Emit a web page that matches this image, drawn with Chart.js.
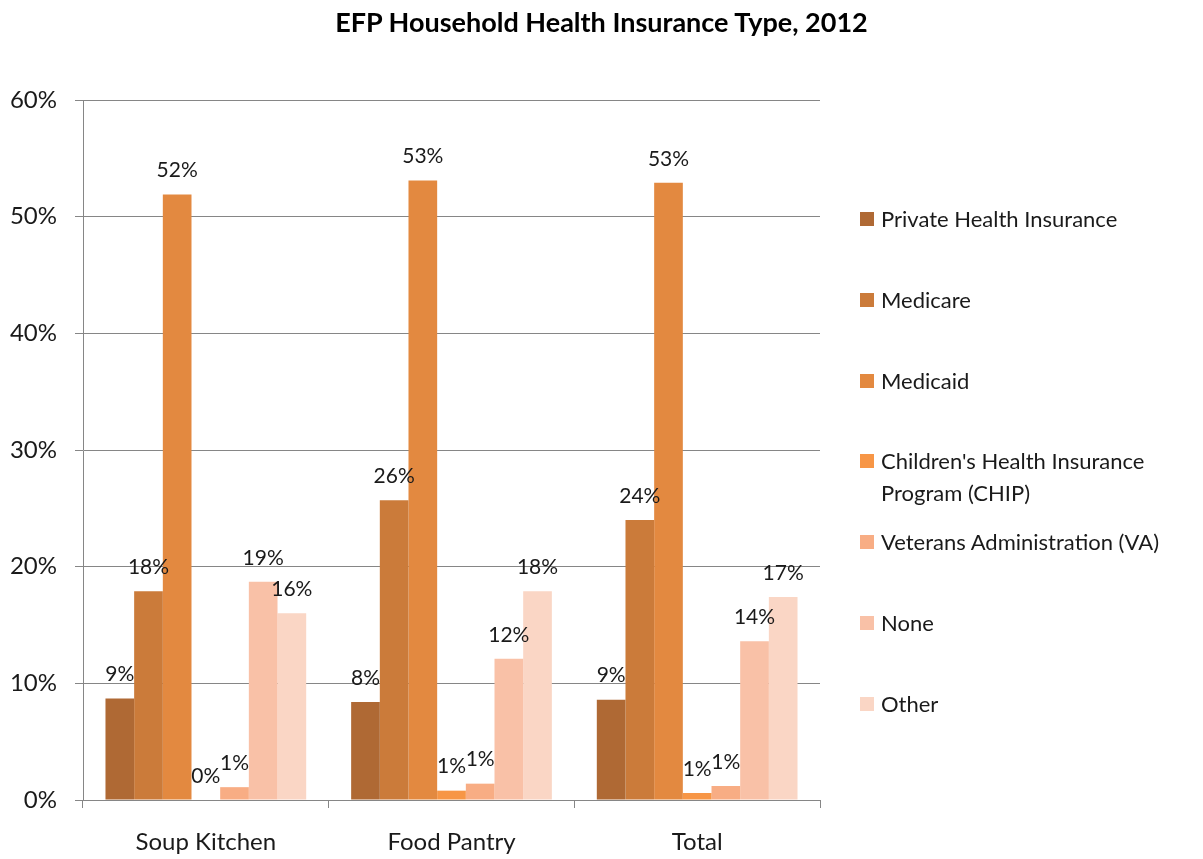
<!DOCTYPE html>
<html>
<head>
<meta charset="utf-8">
<script src="https://cdn.jsdelivr.net/npm/chart.js@4.4.0/dist/chart.umd.min.js"></script>
<style>
  body { margin: 0; background: #fff; }
  #wrap { position: relative; width: 1203px; height: 859px; }
  #title {
    position: absolute; left: 0; top: 5px; width: 1203px; text-align: center;
    font: bold 27px Lato, sans-serif; color: #000;
  }
  #legend { position: absolute; left: 860px; top: 0; }
  .item {
    position: absolute; left: 0; white-space: pre; font: 22px Lato, sans-serif;
    line-height: 32px; color: #1a1a1a; padding-left: 21px;
  }
  .item span {
    position: absolute; left: 0; top: 9px; width: 14px; height: 14px;
  }
</style>
</head>
<body>
<div id="wrap">
  <div id="title">EFP Household Health Insurance Type, 2012</div>
  <canvas id="myChart" width="1203" height="859"></canvas>
  <div id="legend"></div>
</div>
<script>
const categories = ['Soup Kitchen', 'Food Pantry', 'Total'];
const seriesNames = [
  'Private Health Insurance',
  'Medicare',
  'Medicaid',
  "Children's Health Insurance\nProgram (CHIP)",
  'Veterans Administration (VA)',
  'None',
  'Other'
];
const privateIns = [8.7, 8.4, 8.6];
const medicare = [17.9, 25.7, 24.0];
const medicaid = [51.9, 53.1, 52.9];
const chip = [0, 0.8, 0.6];
const va = [1.1, 1.4, 1.2];
const none = [18.7, 12.1, 13.6];
const other = [16.0, 17.9, 17.4];
const colors = ['#AF6934', '#CB7B3A', '#E38940', '#F79646', '#F8AD84', '#F9C1A7', '#FAD6C5'];
const yTicks = [0, 10, 20, 30, 40, 50, 60];

const seriesValues = [privateIns, medicare, medicaid, chip, va, none, other];

const labelPlugin = {
  id: 'barLabels',
  afterDatasetsDraw(chart) {
    const ctx = chart.ctx;
    ctx.save();
    ctx.font = '21px Lato, sans-serif';
    ctx.fillStyle = '#1a1a1a';
    ctx.textAlign = 'center';
    ctx.textBaseline = 'middle';
    chart.data.datasets.forEach((ds, i) => {
      chart.getDatasetMeta(i).data.forEach((bar, j) => {
        ctx.fillText(Math.round(ds.data[j]) + '%', bar.x, bar.y - 24);
      });
    });
    ctx.restore();
  }
};

const data = {
  labels: categories,
  datasets: seriesNames.map((name, i) => ({
    label: name,
    data: seriesValues[i],
    backgroundColor: colors[i],
    barPercentage: 1,
    categoryPercentage: 0.817
  }))
};

const config = {
  type: 'bar',
  data: data,
  options: {
    responsive: false,
    animation: false,
    layout: { padding: { top: 100, right: 383, left: 0, bottom: 0 } },
    plugins: {
      legend: { display: false },
      title: { display: false },
      tooltip: { enabled: false }
    },
    scales: {
      x: {
        afterFit(scale) { scale.height = 59; },
        grid: { drawOnChartArea: false, drawTicks: true, tickLength: 8, color: '#868686' },
        border: { color: '#868686' },
        ticks: { padding: 20, color: '#1a1a1a', font: { family: 'Lato', size: 24 } }
      },
      y: {
        min: 0,
        max: 60,
        afterFit(scale) { scale.width = 83; },
        afterBuildTicks(scale) { scale.ticks = yTicks.map(v => ({ value: v })); },
        grid: { color: '#868686', tickLength: 8 },
        border: { color: '#868686' },
        ticks: {
          padding: 18,
          color: '#1a1a1a',
          font: { family: 'Lato', size: 24 },
          callback: v => v + '%'
        }
      }
    }
  },
  plugins: [labelPlugin]
};

const myChart = new Chart(document.getElementById('myChart'), config);

const legend = document.getElementById('legend');
seriesNames.forEach((name, i) => {
  const div = document.createElement('div');
  div.className = 'item';
  div.style.top = (219 - 16 + i * 80.8) + 'px';
  const sw = document.createElement('span');
  sw.style.background = colors[i];
  div.appendChild(sw);
  div.appendChild(document.createTextNode(name));
  legend.appendChild(div);
});
</script>
</body>
</html>
